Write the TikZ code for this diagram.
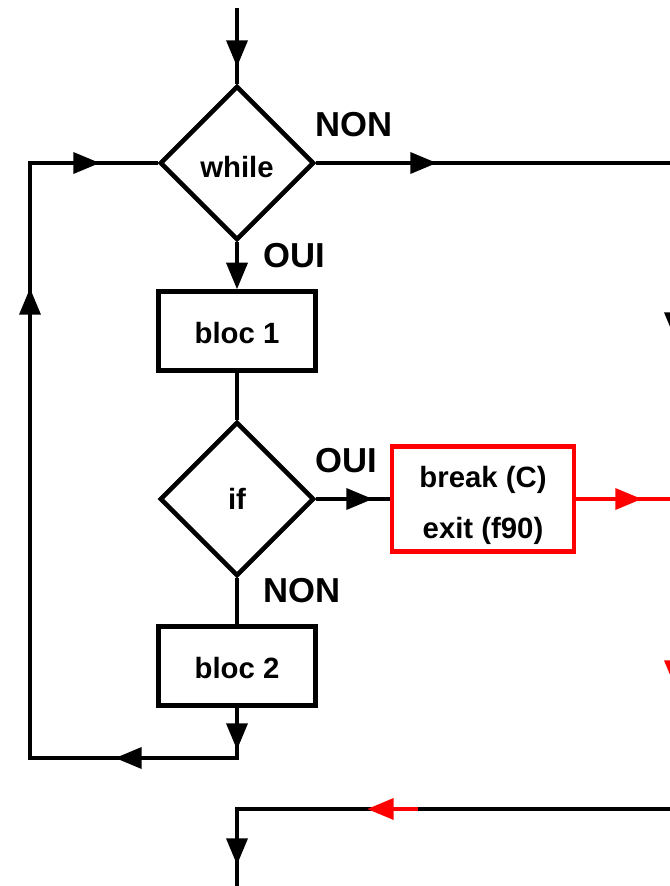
\documentclass[tikz,border=0pt]{standalone}
\usepackage{fontspec}
\setmainfont{Liberation Sans}
\usetikzlibrary{shapes.geometric,arrows.meta}
\begin{document}
\begin{tikzpicture}[x=0.75pt,y=-0.75pt,
  line width=3.4pt,
  arr/.style={-{Triangle[length=20pt,width=15.5pt]}},
  nodetxt/.style={font=\fontsize{22}{38}\selectfont\bfseries},
  lbl/.style={font=\fontsize{26}{30}\selectfont\bfseries, inner sep=0pt},
  boxnode/.style={draw, nodetxt, rectangle, minimum width=118pt, minimum height=59pt, inner sep=0pt},
  decision/.style={draw, nodetxt, diamond, minimum width=115.5pt, minimum height=115.5pt, inner sep=0pt, aspect=1},
  redline/.style={draw=red, color=red}
]
\useasboundingbox (0,0) rectangle (670,886);
\clip (0,0) rectangle (670,886);

% nodes
\node[decision] (while) at (237,163) {\raisebox{-3pt}[\height][\depth]{while}};
\node[boxnode] (b1) at (237,331) {\raisebox{-1.5pt}[\height][\depth]{bloc 1}};
\node[decision] (ifd) at (237,499) {if};
\node[boxnode, draw=red, minimum width=136.5pt, minimum height=78.75pt] (brk) at (483,499)
  {\raisebox{-3pt}[\height][\depth]{\begin{tabular}{@{}c@{}}break (C)\\exit (f90)\end{tabular}}};
\node[boxnode] (b2) at (237,666) {\raisebox{-1.5pt}[\height][\depth]{bloc 2}};

% labels
\node[lbl] (lnon1) at (354,125) {NON};
\node[lbl] (loui1) at (294,256) {OUI};
\node[lbl] (loui2) at (346,461) {OUI};
\node[lbl] (lnon2) at (302,591) {NON};

% corner and end coordinates
\coordinate (in) at (237,8);
\coordinate (cbr) at (237,758);
\coordinate (cbl) at (30,758);
\coordinate (ctl) at (30,163);
\coordinate (cr1) at (675,163);
\coordinate (cr2) at (675,809);
\coordinate (cr3) at (237,809);
\coordinate (out) at (237,886);
\coordinate (cr4) at (675,499);

% arrowhead positions (base, tip)
\coordinate (a0) at (237,40);  \coordinate (t0) at (237,67);
\coordinate (a1) at (347,499); \coordinate (t1) at (373,499);
\coordinate (a2) at (237,723); \coordinate (t2) at (237,750);
\coordinate (a3) at (142,758); \coordinate (t3) at (115,758);
\coordinate (a4) at (30,315);  \coordinate (t4) at (30,288);
\coordinate (a5) at (73,163);  \coordinate (t5) at (100,163);
\coordinate (a6) at (410,163); \coordinate (t6) at (437,163);
\coordinate (a7) at (675,312); \coordinate (t7) at (675,339);
\coordinate (a8) at (237,838); \coordinate (t8) at (237,865);
\coordinate (a9) at (615,499); \coordinate (t9) at (642,499);
\coordinate (a10) at (675,660); \coordinate (t10) at (675,687);
\coordinate (a11) at (418,809); \coordinate (t11) at (367,809);

% main flow
\draw (in) -- (while.north);
\draw[arr] (a0) -- (t0);
\draw[arr] (while.south) -- (b1.north);
\draw (b1.south) -- (ifd.north);
\draw (ifd.east) -- (brk.west);
\draw[arr] (a1) -- (t1);
\draw (ifd.south) -- (b2.north);

% loop back
\draw (b2.south) -- (cbr) -- (cbl) -- (ctl) -- (while.west);
\draw[arr] (a2) -- (t2);
\draw[arr] (a3) -- (t3);
\draw[arr] (a4) -- (t4);
\draw[arr] (a5) -- (t5);

% red exit path
\draw[redline] (brk.east) -- (cr4) -- (cr2);
\draw[arr, redline] (a9) -- (t9);
\draw[arr, redline] (a10) -- (t10);

% while NON exit
\draw (while.east) -- (cr1) -- (cr2) -- (cr3) -- (out);
\draw[arr] (a6) -- (t6);
\draw[arr] (a7) -- (t7);
\draw[arr] (a8) -- (t8);

% red arrow on bottom line
\draw[arr, redline] (a11) -- (t11);
\end{tikzpicture}
\end{document}
